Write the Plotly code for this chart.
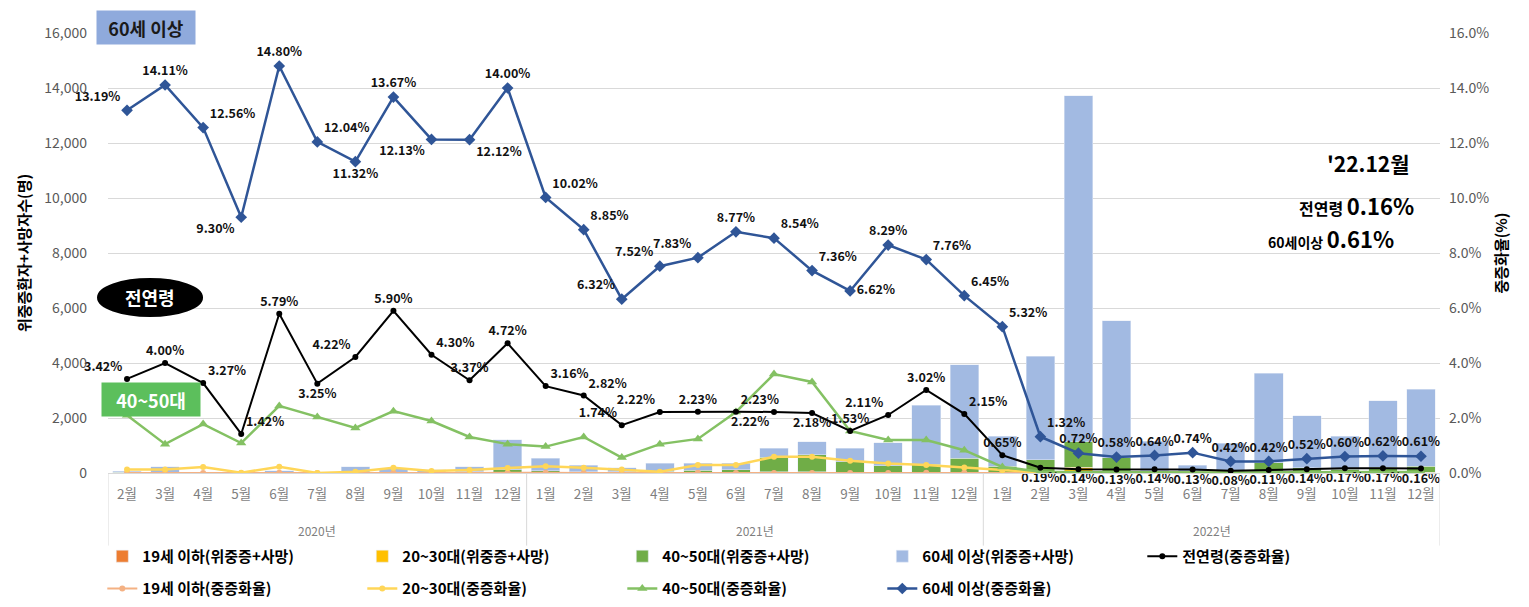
import plotly.graph_objects as go

# x categories
year_names = ["2020년", "2021년", "2022년"]
year_months = [list(range(2, 13)), list(range(1, 13)), list(range(1, 13))]
keys = [f"{y}-{m:02d}" for y, ms in zip(year_names, year_months) for m in ms]
month_labels = [f"{m}월" for ms in year_months for m in ms]

# 위중증+사망 counts (stacked segments)
cnt_19 = [1, 1, 0, 0, 1, 0, 1, 1, 1, 2, 2,
          2, 1, 1, 1, 2, 2, 5, 5, 3, 3, 5, 5,
          5, 15, 60, 15, 5, 2, 5, 15, 5, 5, 5, 5]
cnt_2030 = [5, 5, 3, 2, 3, 2, 5, 5, 5, 5, 15,
            15, 10, 10, 5, 20, 20, 40, 40, 30, 25, 25, 25,
            20, 40, 150, 40, 15, 10, 15, 20, 15, 10, 15, 15]
cnt_4050 = [20, 30, 10, 5, 15, 5, 25, 30, 20, 40, 110,
            60, 40, 30, 60, 80, 100, 530, 620, 375, 230, 290, 500,
            220, 430, 930, 500, 60, 30, 80, 340, 170, 130, 190, 230]
cnt_60 = [45, 195, 15, 3, 65, 8, 200, 135, 85, 185, 1075,
          465, 240, 150, 285, 250, 230, 330, 480, 495, 845, 2135, 3405,
          1100, 3765, 12580, 4985, 1070, 248, 980, 3250, 1895, 1200, 2410, 2800]

# 중증화율 (%)
rate_all = [3.42, 4.00, 3.27, 1.42, 5.79, 3.25, 4.22, 5.90, 4.30, 3.37, 4.72,
            3.16, 2.82, 1.74, 2.22, 2.23, 2.23, 2.22, 2.18, 1.53, 2.11, 3.02, 2.15,
            0.65, 0.19, 0.14, 0.13, 0.14, 0.13, 0.08, 0.11, 0.14, 0.17, 0.17, 0.16]
rate_19 = [0.00, 0.01, 0.00, 0.00, 0.01, 0.00, 0.00, 0.01, 0.00, 0.00, 0.01,
           0.01, 0.00, 0.00, 0.00, 0.01, 0.00, 0.00, 0.00, 0.00, 0.00, 0.01, 0.01,
           0.01, 0.00, 0.00, 0.00, 0.00, 0.00, 0.00, 0.00, 0.00, 0.00, 0.00, 0.00]
rate_2030 = [0.13, 0.13, 0.22, 0.01, 0.23, 0.00, 0.05, 0.19, 0.07, 0.11, 0.18,
             0.25, 0.19, 0.13, 0.05, 0.29, 0.29, 0.59, 0.59, 0.45, 0.35, 0.29, 0.20,
             0.10, 0.02, 0.01, 0.01, 0.01, 0.01, 0.01, 0.01, 0.01, 0.01, 0.01, 0.01]
rate_4050 = [2.10, 1.05, 1.78, 1.09, 2.44, 2.04, 1.64, 2.25, 1.89, 1.31, 1.05,
             0.96, 1.31, 0.56, 1.05, 1.24, 2.22, 3.60, 3.31, 1.53, 1.20, 1.20, 0.83,
             0.22, 0.05, 0.04, 0.03, 0.03, 0.03, 0.02, 0.03, 0.03, 0.04, 0.04, 0.04]
rate_60 = [13.19, 14.11, 12.56, 9.30, 14.80, 12.04, 11.32, 13.67, 12.13, 12.12, 14.00,
           10.02, 8.85, 6.32, 7.52, 7.83, 8.77, 8.54, 7.36, 6.62, 8.29, 7.76, 6.45,
           5.32, 1.32, 0.72, 0.58, 0.64, 0.74, 0.42, 0.42, 0.52, 0.60, 0.62, 0.61]

pos_all = (["top left", "top center", "top right", "top right", "top center", "bottom center",
            "top left", "top center", "top right", "top center", "top center"] +
           ["top right", "top right", "top left", "top left", "top center", "top right",
            "bottom left", "bottom center", "top center", "top left", "top center", "top right"] +
           ["top center"] + ["bottom center"] * 11)
pos_60 = (["top left", "top center", "top right", "bottom left", "top center", "top right",
           "bottom center", "top center", "bottom left", "bottom right", "top center"] +
          ["top right", "top right", "top left", "top left", "top left", "top center",
           "top right", "top right", "middle right", "top center", "top right", "top right"] +
          ["top right", "top right"] + ["top center"] * 10)

FONT = "Noto Sans CJK KR"
lbl_font = dict(family=FONT, size=12.5, color="#111", weight="bold")

fig = go.Figure()
fig.add_trace(go.Bar(x=keys, y=cnt_19, name="19세 이하(위중증+사망)", marker_color="#ED7D31", legend="legend"))
fig.add_trace(go.Bar(x=keys, y=cnt_2030, name="20~30대(위중증+사망)", marker_color="#FFC000", legend="legend"))
fig.add_trace(go.Bar(x=keys, y=cnt_4050, name="40~50대(위중증+사망)", marker_color="#70AD47", legend="legend"))
fig.add_trace(go.Bar(x=keys, y=cnt_60, name="60세 이상(위중증+사망)", marker_color="#A2BAE2", legend="legend"))
fig.add_trace(go.Scatter(x=keys, y=rate_all, name="전연령(중증화율)", yaxis="y2", mode="lines+markers+text",
                         line=dict(color="#000000", width=2), marker=dict(size=6), cliponaxis=False,
                         text=[f"{v:.2f}%" for v in rate_all], textposition=pos_all,
                         textfont=lbl_font, legend="legend"))
fig.add_trace(go.Scatter(x=keys, y=rate_19, name="19세 이하(중증화율)", yaxis="y2", mode="lines+markers",
                         line=dict(color="#F4B183", width=2), marker=dict(size=6), legend="legend2"))
fig.add_trace(go.Scatter(x=keys, y=rate_2030, name="20~30대(중증화율)", yaxis="y2", mode="lines+markers",
                         line=dict(color="#FFD658", width=2.5), marker=dict(size=6), legend="legend2"))
fig.add_trace(go.Scatter(x=keys, y=rate_4050, name="40~50대(중증화율)", yaxis="y2", mode="lines+markers",
                         line=dict(color="#84C163", width=2.5),
                         marker=dict(size=9, symbol="triangle-up"), legend="legend2"))
fig.add_trace(go.Scatter(x=keys, y=rate_60, name="60세 이상(중증화율)", yaxis="y2", mode="lines+markers+text",
                         line=dict(color="#2F5597", width=2.5), marker=dict(size=9, symbol="diamond"),
                         cliponaxis=False,
                         text=[f"{v:.2f}%" for v in rate_60], textposition=pos_60,
                         textfont=lbl_font, legend="legend2"))

# draw black line above the others
fig.data = fig.data[:4] + fig.data[5:] + (fig.data[4],)

leg = dict(orientation="h", xanchor="left", yanchor="top", bgcolor="rgba(0,0,0,0)",
           xref="container", yref="container",
           font=dict(family=FONT, size=15, color="#000", weight="bold"),
           entrywidth=215, traceorder="normal", itemwidth=30)

# page body has an 8px margin, so the figure is 8px smaller than the window
fig.update_layout(
    width=1521, height=599,
    margin=dict(l=100, r=89, t=25, b=134, autoexpand=False),
    paper_bgcolor="white", plot_bgcolor="white",
    barmode="stack", bargap=0.25,
    font=dict(family=FONT),
    legend=dict(leg, x=0.062, y=0.112),
    legend2=dict(leg, x=0.062, y=0.058),
    xaxis=dict(type="category", tickvals=keys, ticktext=month_labels, showgrid=False,
               range=[-0.5, len(keys) - 0.5],
               showline=True, linecolor="#D9D9D9", ticks="", automargin=False, ticklabelstandoff=9,
               tickfont=dict(family=FONT, size=13.5, color="#7F7F7F")),
    yaxis=dict(range=[0, 16000], dtick=2000, tickformat=",", showgrid=True, gridcolor="#D9D9D9",
               zeroline=False, automargin=False, ticklabelstandoff=20,
               tickfont=dict(family=FONT, size=14, color="#595959"),
               title=dict(text="위중증환자+사망자수(명)", standoff=10,
                          font=dict(family=FONT, size=15, color="#000", weight="bold"))),
    yaxis2=dict(range=[0, 16], dtick=2, tickformat=".1f", ticksuffix="%", overlaying="y", side="right",
                showgrid=False, zeroline=False, automargin=False, ticklabelstandoff=8,
                tickfont=dict(family=FONT, size=14, color="#595959"),
                title=dict(text="중증화율(%)", standoff=8,
                           font=dict(family=FONT, size=15, color="#000", weight="bold"))),
)

# year group labels and dividers
start = 0
for name, ms in zip(year_names, year_months):
    end = start + len(ms)
    fig.add_annotation(xref="x", yref="paper", x=(start + end - 1) / 2, y=-0.13, text=name,
                       yanchor="middle", showarrow=False,
                       font=dict(family=FONT, size=12, color="#7F7F7F"))
    fig.add_shape(type="line", xref="x", yref="paper", x0=start - 0.5, x1=start - 0.5, y0=0, y1=-0.165,
                  line=dict(color="#D9D9D9", width=1))
    start = end
fig.add_shape(type="line", xref="x", yref="paper", x0=start - 0.5, x1=start - 0.5, y0=0, y1=-0.165,
              line=dict(color="#D9D9D9", width=1))

fig.add_shape(type="circle", xref="paper", yref="paper", x0=-0.0075, x1=0.0706, y0=0.357, y1=0.441,
              fillcolor="#000000", line=dict(color="#000000"))

anno_font = dict(family=FONT, size=18, weight="bold")
fig.add_annotation(xref="paper", yref="paper", x=0.0285, y=1.0136, text="60세 이상", showarrow=False,
                   xanchor="center", yanchor="middle",
                   bgcolor="#8FAADC", width=96, height=31, font=dict(anno_font, color="#1A1A1A"))
fig.add_annotation(xref="paper", yref="paper", x=0.0315, y=0.399, text="전연령", showarrow=False,
                   xanchor="center", yanchor="middle", font=dict(anno_font, color="#FFFFFF"))
fig.add_annotation(xref="paper", yref="paper", x=0.0323, y=0.168, text="40~50대", showarrow=False,
                   xanchor="center", yanchor="middle",
                   bgcolor="#5CBF5C", width=96, height=31, font=dict(anno_font, color="#FFFFFF"))

fig.add_annotation(xref="paper", yref="paper", x=0.946, y=0.7045, text="'22.12월", showarrow=False,
                   xanchor="center", yanchor="middle",
                   font=dict(family=FONT, size=21, color="#000", weight="bold"))
fig.add_annotation(xref="paper", yref="paper", x=0.937, y=0.609, showarrow=False,
                   xanchor="center", yanchor="middle",
                   text="전연령 <span style='font-size:22px'>0.16%</span>",
                   font=dict(family=FONT, size=16, color="#000", weight="bold"))
fig.add_annotation(xref="paper", yref="paper", x=0.918, y=0.534, showarrow=False,
                   xanchor="center", yanchor="middle",
                   text="<span style='font-size:14px'>60세이상</span> <span style='font-size:22px'>0.61%</span>",
                   font=dict(family=FONT, size=16, color="#000", weight="bold"))

fig.write_html("out.html")
